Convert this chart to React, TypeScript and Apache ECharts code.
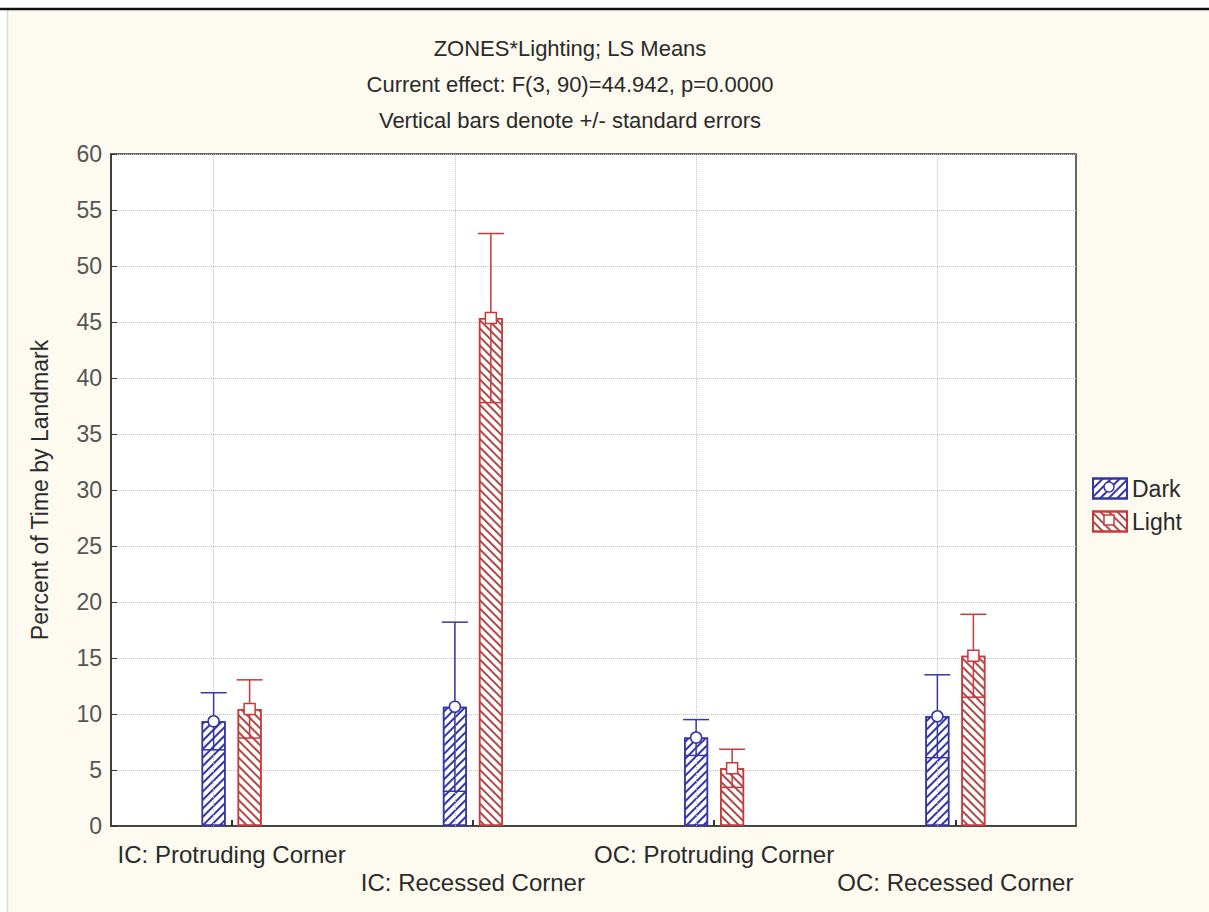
import React, { useEffect, useRef } from 'react';
import * as echarts from 'echarts';

const categories = ['IC: Protruding Corner', 'IC: Recessed Corner', 'OC: Protruding Corner', 'OC: Recessed Corner'];
const seriesNames = ['Dark', 'Light'];
const darkMeans = [9.35, 10.65, 7.9, 9.8];
const darkSE = [2.55, 7.55, 1.6, 3.7];
const lightMeans = [10.45, 45.35, 5.15, 15.2];
const lightSE = [2.6, 7.55, 1.7, 3.7];
const yMin = 0;
const yMax = 60;
const yInterval = 5;
const titleLines = [
  'ZONES*Lighting; LS Means',
  'Current effect: F(3, 90)=44.942, p=0.0000',
  'Vertical bars denote +/- standard errors',
];
const yAxisTitle = 'Percent of Time by Landmark';

const BLUE = '#3535a6';
const RED = '#c83a3a';
const BAR_W = 24;
const BAR_GAP = 12;
const FONT = '"Liberation Sans", Arial, sans-serif';
const TEXT = '#2a2a2a';

function errorRenderer(color: string, offset: number, marker: 'circle' | 'square') {
  return (params: any, api: any) => {
    const i = api.value(0);
    const m = api.value(1);
    const se = api.value(2);
    const c = api.coord([i, m]);
    const hi = api.coord([i, m + se]);
    const lo = api.coord([i, m - se]);
    const x = c[0] + offset;
    const st = { stroke: color, lineWidth: 1.5 };
    const children: any[] = [
      { type: 'line', shape: { x1: x, y1: hi[1], x2: x, y2: lo[1] }, style: st },
      { type: 'line', shape: { x1: x - 13, y1: hi[1], x2: x + 13, y2: hi[1] }, style: st },
      { type: 'line', shape: { x1: x - BAR_W / 2, y1: lo[1], x2: x + BAR_W / 2, y2: lo[1] }, style: st },
      marker === 'circle'
        ? { type: 'circle', shape: { cx: x, cy: c[1], r: 5.5 }, style: { fill: '#fff', stroke: color, lineWidth: 1.5 } }
        : { type: 'rect', shape: { x: x - 5.5, y: c[1] - 5.5, width: 11, height: 11 }, style: { fill: '#fff', stroke: color, lineWidth: 1.5 } },
    ];
    return { type: 'group', children };
  };
}

export default function App() {
  const ref = useRef<HTMLDivElement>(null);
  useEffect(() => {
    if (!ref.current) return;
    const chart = echarts.init(ref.current, undefined, { renderer: 'svg' });
    const off = (BAR_W + BAR_GAP) / 2;
    const option: any = {
      animation: false,
      backgroundColor: '#ffffff',
      textStyle: { fontFamily: FONT },
      title: {
        text: titleLines.join('\n'),
        left: 565,
        top: 25,
        textAlign: 'center',
        textStyle: { fontFamily: FONT, fontSize: 22, fontWeight: 'normal', color: TEXT, lineHeight: 36 },
      },
      graphic: [
        { type: 'rect', z: -100, silent: true, shape: { x: 7, y: 9, width: 1202, height: 903 }, style: { fill: '#fdfbf0' } },
        { type: 'line', z: -99, silent: true, shape: { x1: 7.5, y1: 10, x2: 7.5, y2: 912 }, style: { stroke: '#dcdcd6', lineWidth: 1.5 } },
        { type: 'line', z: -99, silent: true, shape: { x1: 0, y1: 9, x2: 1209, y2: 9 }, style: { stroke: '#111', lineWidth: 2.5 } },
        { type: 'circle', z: 100, shape: { cx: 1109, cy: 487, r: 5 }, style: { fill: '#fff', stroke: BLUE, lineWidth: 1.5 } },
        { type: 'rect', z: 100, shape: { x: 1104, y: 515, width: 10, height: 10 }, style: { fill: '#fff', stroke: RED, lineWidth: 1.5 } },
      ],
      legend: {
        data: seriesNames,
        orient: 'vertical',
        left: 1092,
        top: 477,
        padding: 0,
        itemWidth: 34,
        itemHeight: 20,
        itemGap: 10,
        icon: 'rect',
        textStyle: { fontFamily: FONT, fontSize: 23, color: TEXT },
      },
      grid: {
        left: 111,
        top: 154,
        width: 965,
        height: 672,
        show: true,
        backgroundColor: '#ffffff',
        borderColor: '#333',
        borderWidth: 1.5,
      },
      xAxis: {
        type: 'category',
        data: categories,
        boundaryGap: true,
        axisLine: { show: true, lineStyle: { color: '#333', width: 1.5 } },
        axisTick: { show: true, inside: true, alignWithLabel: true, length: 6, lineStyle: { color: '#333', width: 2 } },
        splitLine: { show: false },
        axisLabel: {
          interval: 0,
          margin: 14,
          fontFamily: FONT,
          fontSize: 24,
          color: TEXT,
          lineHeight: 28,
          formatter: (v: string, idx: number) => (idx % 2 ? '\n' + v : v),
        },
      },
      yAxis: {
        type: 'value',
        min: yMin,
        max: yMax,
        interval: yInterval,
        name: yAxisTitle,
        nameLocation: 'middle',
        nameGap: 60,
        nameTextStyle: { fontFamily: FONT, fontSize: 23, color: TEXT },
        axisLine: { show: true, lineStyle: { color: '#333', width: 1.5 } },
        axisTick: { show: true, inside: true, length: 6, lineStyle: { color: '#333' } },
        axisLabel: { margin: 9, fontFamily: FONT, fontSize: 23, color: '#555' },
        splitLine: { show: true, lineStyle: { color: '#c4c4c4', type: 'dotted', width: 1 } },
      },
      series: [
        {
          name: 'Dark',
          type: 'bar',
          data: darkMeans,
          barWidth: BAR_W,
          barGap: (BAR_GAP / BAR_W) * 100 + '%',
          z: 2,
          itemStyle: {
            color: '#ffffff',
            borderColor: BLUE,
            borderWidth: 1.5,
            decal: {
              symbol: 'rect',
              symbolSize: 1,
              color: BLUE,
              dashArrayX: [1, 0],
              dashArrayY: [1.2, 4],
              rotation: -Math.PI / 4,
            },
          },
          markLine: {
            silent: true,
            symbol: ['none', 'none'],
            label: { show: false },
            lineStyle: { color: '#c4c4c4', type: 'dotted', width: 1 },
            data: categories.map((c) => ({ xAxis: c })),
          },
        },
        {
          name: 'Light',
          type: 'bar',
          data: lightMeans,
          barWidth: BAR_W,
          z: 2,
          itemStyle: {
            color: '#ffffff',
            borderColor: RED,
            borderWidth: 1.5,
            decal: {
              symbol: 'rect',
              symbolSize: 1,
              color: '#b04848',
              dashArrayX: [1, 0],
              dashArrayY: [1.2, 4],
              rotation: Math.PI / 4,
            },
          },
        },
        {
          name: 'Dark SE',
          type: 'custom',
          z: 5,
          renderItem: errorRenderer(BLUE, -off, 'circle'),
          encode: { x: 0, y: 1 },
          data: darkMeans.map((m, i) => [i, m, darkSE[i]]),
        },
        {
          name: 'Light SE',
          type: 'custom',
          z: 5,
          renderItem: errorRenderer(RED, off, 'square'),
          encode: { x: 0, y: 1 },
          data: lightMeans.map((m, i) => [i, m, lightSE[i]]),
        },
      ],
    };
    chart.setOption(option);
    return () => chart.dispose();
  }, []);
  return (
    <div style={{ position: 'absolute', left: 0, top: 0, width: 1209, height: 912 }}>
      <div ref={ref} style={{ width: 1209, height: 912 }} />
    </div>
  );
}
